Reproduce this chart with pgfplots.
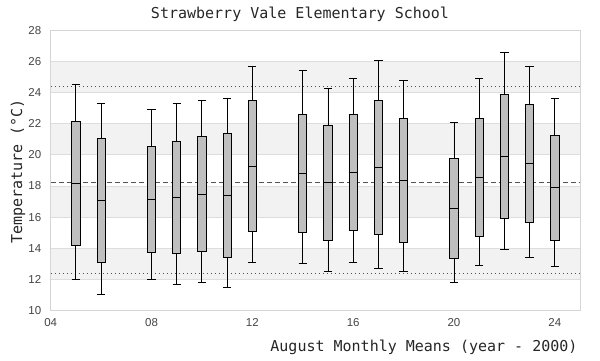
\documentclass[border=0pt]{standalone}
\usepackage{fontspec}
\setmainfont{Liberation Sans}
\newfontfamily\monof{DejaVu Sans Mono}
\usepackage{pgfplots}
\pgfplotsset{compat=1.18}
\usepgfplotslibrary{statistics}
\definecolor{band}{HTML}{F2F2F2}
\definecolor{gridc}{HTML}{DDDDDD}
\definecolor{bord}{HTML}{D5D5D5}
\definecolor{boxf}{HTML}{BFBFBF}
\definecolor{refc}{HTML}{555555}
\definecolor{tickc}{HTML}{444444}
\newcommand{\bx}[6]{\addplot[draw=black, fill=boxf, line width=0.9pt,
  boxplot prepared={draw position=#1, lower whisker=#2, lower quartile=#3,
  median=#4, upper quartile=#5, upper whisker=#6, box extend=0.33, whisker extend=0.33}] coordinates {};}
\begin{document}
\begin{tikzpicture}
\path[use as bounding box] (-50.7pt,-49.7pt) rectangle (549.3pt,310.3pt);
\begin{axis}[
  at={(0,0)}, anchor=south west,
  scale only axis, width=529.3pt, height=279.6pt,
  xmin=4, xmax=25, ymin=10, ymax=28,
  boxplot/draw direction=y,
  xtick={4,8,12,16,20,24}, xticklabels={04,08,12,16,20,24},
  ytick={10,12,...,28},
  major tick length=0pt,
  axis line style={bord, line width=1pt},
  tick label style={font=\fontsize{11.5}{13}\selectfont, text=tickc},
  /pgf/number format/assume math mode=true,
  xticklabel style={yshift=-5pt},
  yticklabel style={xshift=-6pt},
]
\fill[band] (axis cs:4,12) rectangle (axis cs:25,14);
\fill[band] (axis cs:4,16) rectangle (axis cs:25,18);
\fill[band] (axis cs:4,20) rectangle (axis cs:25,22);
\fill[band] (axis cs:4,24) rectangle (axis cs:25,26);
\draw[gridc, line width=1pt] (axis cs:4,12) -- (axis cs:25,12);
\draw[gridc, line width=1pt] (axis cs:4,14) -- (axis cs:25,14);
\draw[gridc, line width=1pt] (axis cs:4,16) -- (axis cs:25,16);
\draw[gridc, line width=1pt] (axis cs:4,18) -- (axis cs:25,18);
\draw[gridc, line width=1pt] (axis cs:4,20) -- (axis cs:25,20);
\draw[gridc, line width=1pt] (axis cs:4,22) -- (axis cs:25,22);
\draw[gridc, line width=1pt] (axis cs:4,24) -- (axis cs:25,24);
\draw[gridc, line width=1pt] (axis cs:4,26) -- (axis cs:25,26);
\addplot[refc, line width=0.9pt, dash pattern=on 5pt off 3pt] coordinates {(4,18.24) (25,18.24)};
\addplot[refc, line width=0.9pt, dash pattern=on 1pt off 3pt] coordinates {(4,24.4) (25,24.4)};
\addplot[refc, line width=0.9pt, dash pattern=on 1pt off 3pt] coordinates {(4,12.38) (25,12.38)};
\bx{5}{11.99}{14.18}{18.17}{22.16}{24.55}
\bx{6}{11.02}{13.09}{17.08}{21.07}{23.32}
\bx{8}{11.99}{13.73}{17.14}{20.55}{22.94}
\bx{9}{11.67}{13.66}{17.27}{20.88}{23.32}
\bx{10}{11.80}{13.79}{17.46}{21.20}{23.52}
\bx{11}{11.48}{13.41}{17.40}{21.39}{23.65}
\bx{12}{13.09}{15.08}{19.27}{23.52}{25.71}
\bx{14}{13.02}{15.02}{18.82}{22.61}{25.45}
\bx{15}{12.51}{14.50}{18.24}{21.91}{24.29}
\bx{16}{13.09}{15.15}{18.88}{22.61}{24.93}
\bx{17}{12.70}{14.89}{19.20}{23.52}{26.09}
\bx{18}{12.51}{14.37}{18.37}{22.36}{24.80}
\bx{20}{11.80}{13.34}{16.56}{19.78}{22.10}
\bx{21}{12.89}{14.76}{18.56}{22.36}{24.93}
\bx{22}{13.92}{15.92}{19.91}{23.90}{26.61}
\bx{23}{13.41}{15.66}{19.46}{23.26}{25.71}
\bx{24}{12.83}{14.50}{17.91}{21.26}{23.65}
\end{axis}
\node[font=\monof\fontsize{15}{18}\selectfont, text=black!85] at (249.3pt,295.8pt) {Strawberry Vale Elementary School};
\node[font=\monof\fontsize{15}{18}\selectfont, text=black!85, anchor=east] at (530.3pt,-36.7pt) {August Monthly Means (year - 2000)};
\node[font=\monof\fontsize{15}{18}\selectfont, text=black!85, rotate=90] at (-32.7pt,138.8pt) {Temperature (°C)};
\end{tikzpicture}
\end{document}
